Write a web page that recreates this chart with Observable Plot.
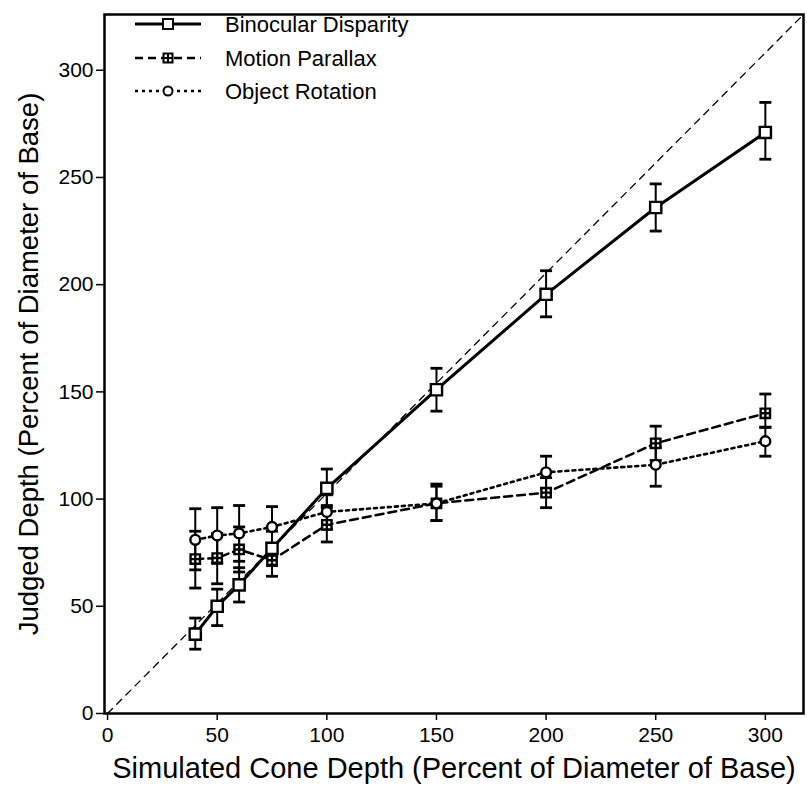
<!DOCTYPE html>
<html><head><meta charset="utf-8">
<script src="https://cdn.jsdelivr.net/npm/d3@7"></script>
<script src="https://cdn.jsdelivr.net/npm/@observablehq/plot@0.6"></script>
<style>
body{margin:0;background:#fff;}
#chart{position:relative;width:807px;height:789px;font-family:"Liberation Sans",Arial,Helvetica,sans-serif;}
#legend{position:absolute;left:0;top:0;pointer-events:none;}
</style></head><body><div id="chart"></div>
<script>
// ---- data ----
const depths = [40, 50, 60, 75, 100, 150, 200, 250, 300];
const seriesNames = ["Binocular Disparity", "Motion Parallax", "Object Rotation"];
const binocular   = [37, 50, 60, 77, 105, 151, 195.5, 236, 271];
const binocularLo = [30, 41, 52, 69, 97, 141, 185, 225, 258.5];
const binocularHi = [44.5, 58, 68, 85, 114, 161, 206.5, 247, 285];
const motion      = [72, 72.5, 76.5, 71.5, 88, 98, 103, 126, 140];
const motionLo    = [58.5, 60.5, 66, 64, 80, 90, 96, 118, 133.5];
const motionHi    = [85, 84, 87, 79, 96, 107, 110, 134, 149];
const rotation    = [81, 83, 84, 87, 94, 98, 112.5, 116, 127];
const rotationLo  = [67, 70, 71, 78, 86, 90, 105, 106, 120];
const rotationHi  = [95.5, 96, 97, 96.5, 102, 106, 120, 124, 133.5];
const xTicks = [0, 50, 100, 150, 200, 250, 300];
const yTicks = [0, 50, 100, 150, 200, 250, 300];
const xTitle = "Simulated Cone Depth (Percent of Diameter of Base)";
const yTitle = "Judged Depth (Percent of Diameter of Base)";
const xDomain = [-1.4, 317.4];
const yDomain = [0, 326];

// ---- table ----
const build = (name, v, lo, hi) => depths.map((x, i) => ({series: name, x, y: v[i], lo: lo[i], hi: hi[i]}));
const bd = build(seriesNames[0], binocular, binocularLo, binocularHi);
const mp = build(seriesNames[1], motion, motionLo, motionHi);
const orr = build(seriesNames[2], rotation, rotationLo, rotationHi);
const diagonal = [{x: 0, y: 0}, {x: xDomain[1], y: yDomain[1]}];

// ---- symbols ----
const squareSym = {draw(ctx, size){const h = Math.sqrt(size/Math.PI); ctx.rect(-h, -h, 2*h, 2*h);}};
const crossSquareSym = {draw(ctx, size){const h = Math.sqrt(size/Math.PI); ctx.rect(-h, -h, 2*h, 2*h); ctx.moveTo(-h, 0); ctx.lineTo(h, 0); ctx.moveTo(0, -h); ctx.lineTo(0, h);}};
const capSym = {draw(ctx, size){const h = Math.sqrt(size/Math.PI); ctx.moveTo(-h, 0); ctx.lineTo(h, 0);}};

const styles = [
  {data: bd, dash: null, width: 3, sym: squareSym, r: 5.6},
  {data: mp, dash: "8,5", width: 2.5, sym: crossSquareSym, r: 4.7},
  {data: orr, dash: "3,4", width: 2.6, sym: "circle", r: 4.9}
];

const font = '"Liberation Sans", Arial, Helvetica, sans-serif';
const marks = [
  Plot.line(diagonal, {x: "x", y: "y", stroke: "#000", strokeWidth: 1.3, strokeDasharray: "7,6"})
];
for (const s of styles) {
  marks.push(Plot.line(s.data, {x: "x", y: "y", stroke: "#000", strokeWidth: s.width, strokeDasharray: s.dash}));
}
for (const s of styles) {
  marks.push(Plot.ruleX(s.data, {x: "x", y1: "lo", y2: "hi", stroke: "#000", strokeWidth: 2}));
  marks.push(Plot.dot(s.data, {x: "x", y: "lo", symbol: capSym, r: 6, stroke: "#000", strokeWidth: 2.8}));
  marks.push(Plot.dot(s.data, {x: "x", y: "hi", symbol: capSym, r: 6, stroke: "#000", strokeWidth: 2.8}));
}
for (const s of styles) {
  marks.push(Plot.dot(s.data, {x: "x", y: "y", symbol: s.sym, r: s.r, fill: "#fff", stroke: "#000", strokeWidth: 2.4}));
}
marks.push(
  Plot.frame({stroke: "#000", strokeWidth: 2.5}),
  Plot.axisX({ticks: xTicks, tickSize: 7, tickPadding: 7, tickFormat: d => d, label: null, fontSize: 21, strokeWidth: 1.5}),
  Plot.axisY({ticks: yTicks, tickSize: 8, tickPadding: 3, tickFormat: d => d, label: null, fontSize: 21, strokeWidth: 1.5}),
  Plot.text([xTitle], {frameAnchor: "bottom", dy: 64, text: d => d, fontSize: 29, textAnchor: "middle", fill: "#000"}),
  Plot.text([yTitle], {frameAnchor: "left", dx: -75, rotate: -90, text: d => d, fontSize: 27.5, textAnchor: "middle", fill: "#000"})
);

const chart = Plot.plot({
  width: 807, height: 789,
  marginLeft: 104, marginTop: 14, marginRight: 4, marginBottom: 76,
  style: {fontFamily: font, color: "#000", background: "#fff", overflow: "visible"},
  x: {domain: xDomain},
  y: {domain: yDomain},
  marks
});
const root = document.getElementById("chart");
root.appendChild(chart);

// ---- legend overlay ----
const lg = d3.select(root).append("svg").attr("id", "legend").attr("width", 807).attr("height", 789);
const rowsY = [24, 58, 91];
const legendSyms = [
  (g) => g.append("rect").attr("x", -5).attr("y", -5).attr("width", 10).attr("height", 10),
  (g) => { g.append("rect").attr("x", -4.5).attr("y", -4.5).attr("width", 9).attr("height", 9);
           g.append("path").attr("d", "M-4.5,0H4.5M0,-4.5V4.5"); },
  (g) => g.append("circle").attr("r", 4.5)
];
styles.forEach((s, i) => {
  const g = lg.append("g").attr("transform", `translate(0,${rowsY[i]})`);
  g.append("line").attr("x1", 135).attr("x2", 201).attr("y1", 0).attr("y2", 0)
    .attr("stroke", "#000").attr("stroke-width", s.width).attr("stroke-dasharray", s.dash);
  const m = g.append("g").attr("transform", "translate(168,0)").attr("fill", "#fff").attr("stroke", "#000").attr("stroke-width", 2);
  legendSyms[i](m);
  g.append("text").attr("x", 225).attr("y", 0).attr("dy", "0.35em").attr("font-size", 22)
    .attr("font-family", font).attr("fill", "#000").text(seriesNames[i]);
});
</script></body></html>
